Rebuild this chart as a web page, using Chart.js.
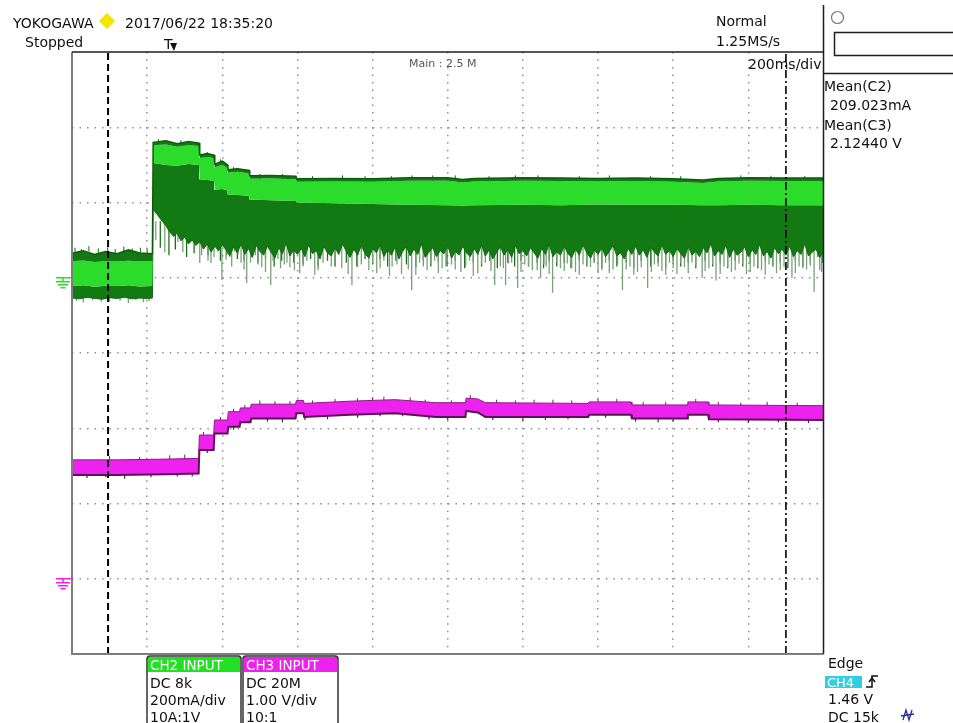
<!DOCTYPE html>
<html>
<head>
<meta charset="utf-8">
<script src="https://cdn.jsdelivr.net/npm/chart.js@4.4.1/dist/chart.umd.min.js"></script>
<style>
  html, body { margin: 0; padding: 0; background: #ffffff; }
  canvas { display: block; }
</style>
</head>
<body>
<canvas id="scope" width="953" height="723"></canvas>
<script>
// ---- Acquisition: 200 ms/div, 10 divisions ----
const timeDivs = [0, 200, 400, 600, 800, 1000, 1200, 1400, 1600, 1800, 2000];

// ---- CH2 (current, 200 mA/div, ground 3 div below top) ----
// envelope breakpoints (ms) shared by the top edge and the bright core
const ch2Time     = [0, 30, 60, 90, 120, 150, 180, 214, 216, 250, 280, 310, 338, 340, 360, 378, 380, 400, 414, 415, 440, 472, 473, 530, 596, 598, 700, 800, 900, 1000, 1040, 1070, 1200, 1300, 1400, 1500, 1600, 1680, 1720, 1800, 1900, 2000];
const ch2Top      = [65, 72, 62, 70, 64, 74, 66, 64, 360, 364, 356, 362, 358, 326, 330, 326, 302, 310, 300, 287, 290, 285, 271, 272, 270, 263, 264, 263, 266, 266, 261, 264, 266, 265, 264, 265, 263, 260, 264, 266, 265, 265];
const ch2CoreTop  = [44, 46, 42, 44, 43, 45, 44, 44, 352, 354, 348, 352, 350, 318, 320, 318, 294, 300, 292, 279, 282, 277, 263, 264, 262, 255, 256, 255, 258, 258, 253, 256, 258, 257, 256, 257, 255, 252, 256, 258, 257, 257];
const ch2CoreLow  = [-22, -20, -24, -21, -22, -20, -23, -22, 305, 300, 298, 302, 300, 262, 260, 258, 234, 236, 232, 221, 220, 218, 208, 206, 204, 200, 198, 196, 194, 193, 192, 193, 194, 193, 195, 194, 194, 193, 193, 194, 193, 193];
// lower edge of the dense noise body [ms, mA] up to 400 ms
const ch2LowHead = [
  [0,-54],[20,-56],[40,-52],[60,-55],[80,-57],[100,-53],[120,-55],[140,-52],[160,-56],[180,-54],[200,-55],[214,-54],
  [216,185],[220,176],[230,164],[240,150],[250,138],[260,122],[270,110],[280,118],[290,98],[300,108],
  [310,90],[320,100],[330,86],[340,96],[350,76],[360,90],[370,68],[380,84],[390,72],[400,88]
];
// lower edge from 410 ms on, one value every 10 ms (mA)
const ch2LowTailStart = 410;
const ch2LowTailStep = 10;
const ch2LowTail = [
  74, 58, 82, 66, 90, 62, 78, 54, 86, 70,
  60, 84, 68, 52, 80, 64, 92, 58, 74, 62,
  78, 56, 88, 64, 72, 50, 84, 66, 58, 80,
  62, 90, 70, 54, 76, 60, 86, 64, 52, 78,
  66, 88, 56, 74, 60, 82, 50, 70, 84, 58,
  76, 62, 90, 54, 68, 80, 56, 72, 64, 86,
  52, 70, 60, 84, 66, 56, 78, 62, 88, 58,
  74, 50, 68, 82, 60, 76, 54, 86, 64, 72,
  58, 80, 66, 52, 78, 62, 90, 56, 70, 60,
  84, 64, 54, 76, 60, 88, 66, 52, 74, 62,
  80, 56, 70, 86, 58, 66, 50, 78, 62, 84,
  60, 74, 54, 82, 68, 58, 88, 62, 72, 56,
  78, 64, 52, 84, 60, 70, 56, 80, 66, 90,
  58, 72, 62, 86, 54, 76, 60, 68, 82, 56,
  74, 62, 88, 58, 70, 52, 80, 64, 76, 60,
  84, 56, 72, 62, 90, 58, 68, 76, 54, 70
];
// long negative glitches [ms, mA]
const ch2GlitchesGrey = [
  [12,-62],[30,-66],[55,-60],[78,-64],[100,-63],[128,-61],[150,-67],[170,-60],[190,-65],[205,-62],
  [223,100],[247,68],[262,130],[282,95],[295,68],[318,110],[340,39],[345,60],[355,90],[362,45],[370,39],[378,55],[388,70],[399,-6],
  [410,48],[420,55],[425,30],[433,70],[442,62],[450,40],[458,22],[465,-14],[475,40],[488,60],[495,35],[505,28],[515,15],[529,-19],
  [535,45],[548,50],[555,25],[565,35],[572,40],[580,28],[592,20],[606,12],[615,30],[625,45],[646,8],[655,20],
  [668,40],[690,30],[700,42],[718,25],[735,10],[745,-19],[760,28],[770,35],[790,20],[800,38],[811,12],[820,25],[830,45],[845,5],
  [852,30],[865,35],[877,10],[895,22],[904,-33],[915,8],[925,40],[935,30],[945,20],[955,38],[965,45],[975,12],[985,25],[995,30],
  [1010,35],[1020,22],[1035,15],[1048,30],[1058,45],[1068,5],[1080,12],[1090,35],[1100,40],[1115,18],[1125,-19],[1140,30],[1148,25],
  [1154,-19],[1162,38],[1170,40],[1186,-27],[1195,15],[1205,35],[1215,30],[1225,20],[1238,20],[1247,0],[1256,35],[1262,30],[1270,10],
  [1279,-40],[1290,40],[1300,25],[1310,18],[1318,38],[1330,25],[1340,15],[1350,8],[1360,35],[1370,30],[1380,28],[1390,40],[1400,12],
  [1410,20],[1420,40],[1430,12],[1440,22],[1452,35],[1465,-33],[1475,22],[1485,30],[1495,8],[1505,15],[1515,28],[1532,-27],[1542,15],
  [1550,35],[1560,30],[1570,18],[1580,8],[1590,40],[1600,25],[1610,10],[1620,38],[1630,28],[1640,12],[1650,40],[1660,30],[1677,0],
  [1685,18],[1695,25],[1705,35],[1714,-7],[1725,10],[1735,30],[1745,28],[1755,15],[1765,20],[1775,38],[1785,35],[1795,10],[1805,15],
  [1815,30],[1825,28],[1835,20],[1845,8],[1855,35],[1865,30],[1875,12],[1885,20],[1895,28],[1905,35],[1916,0],[1925,12],[1935,30],
  [1945,25],[1955,22],[1965,32],[1975,-38],[1990,20],[1995,15]
];
const ch2GlitchesDark = [
  [235,80],[258,60],[275,75],[305,55],[325,65],[362,60],[395,45],[412,60],[440,50],[458,45],[478,55],[495,40],
  [515,50],[538,30],[558,45],[590,40],[615,35],[635,50],[655,30],[680,45],[700,30],[730,40],[758,30],[780,50],
  [800,35],[820,50],[840,30],[862,45],[890,35],[915,28],[935,45],[955,30],[975,40],[998,30],[1020,45],[1045,25],
  [1068,40],[1090,30],[1112,45],[1132,25],[1160,40],[1178,30],[1195,45],[1215,30],[1238,40],[1255,25],[1270,45],[1290,30],
  [1310,40],[1328,25],[1350,45],[1370,30],[1390,40],[1410,25],[1430,45],[1450,30],[1475,40],[1495,25],[1515,45],[1540,30],
  [1560,40],[1580,25],[1600,45],[1620,30],[1640,40],[1660,25],[1685,45],[1705,30],[1725,40],[1745,25],[1765,45],[1785,30],
  [1805,40],[1825,25],[1845,45],[1865,30],[1885,40],[1905,25],[1925,45],[1945,30],[1965,40],[1985,55],[1998,40]
];
// short positive glitches on the top edge [ms, mA]
const ch2GlitchesTop = [
  [8,80],[25,76],[45,84],[70,78],[95,81],[115,76],[138,83],[160,78],[182,80],[200,77],
  [230,368],[290,366],[360,334],[395,315],[430,294],[500,276],[560,276],[640,270],[720,272],[780,270],[850,270],[905,272],
  [960,272],[1020,272],[1110,270],[1180,272],[1240,272],[1350,270],[1430,272],[1540,270],[1620,270],[1780,272],[1860,271],[1950,270]
];

// ---- CH3 (voltage, 1.00 V/div, ground 7 div below top) ----
const ch3Time  = [0, 120, 250, 337, 339, 377, 379, 414, 416, 446, 448, 475, 477, 595, 597, 616, 618, 740, 860, 968, 1047, 1049, 1080, 1100, 1374, 1376, 1488, 1490, 1637, 1639, 1693, 1695, 2000];
const ch3Upper = [1.58, 1.58, 1.59, 1.60, 1.91, 1.91, 2.11, 2.11, 2.22, 2.22, 2.27, 2.27, 2.32, 2.32, 2.37, 2.37, 2.33, 2.36, 2.38, 2.34, 2.34, 2.40, 2.39, 2.34, 2.33, 2.35, 2.35, 2.31, 2.31, 2.35, 2.35, 2.31, 2.30];
const ch3Lower = [1.38, 1.38, 1.39, 1.40, 1.71, 1.71, 1.93, 1.93, 2.02, 2.02, 2.08, 2.08, 2.13, 2.13, 2.20, 2.20, 2.15, 2.18, 2.20, 2.15, 2.15, 2.23, 2.21, 2.15, 2.15, 2.18, 2.18, 2.13, 2.13, 2.18, 2.18, 2.12, 2.11];
// short noise ticks on the band edges [ms, V]
const ch3TicksUp = [
  [100,1.63],[180,1.62],[260,1.64],[300,1.65],[350,1.95],[395,2.15],[430,2.26],[460,2.31],[500,2.37],[540,2.36],[580,2.36],
  [640,2.37],[700,2.39],[760,2.40],[800,2.41],[830,2.42],[900,2.41],[940,2.38],[1010,2.37],[1060,2.44],[1130,2.38],[1180,2.37],
  [1230,2.38],[1280,2.38],[1330,2.37],[1400,2.39],[1450,2.39],[1520,2.35],[1580,2.35],[1660,2.39],[1720,2.35],[1780,2.34],
  [1850,2.35],[1930,2.34]
];
const ch3TicksDown = [
  [40,1.34],[90,1.35],[140,1.33],[210,1.35],[280,1.36],[320,1.36],[360,1.67],[430,1.98],[520,2.09],[560,2.08],[620,2.11],
  [680,2.12],[760,2.14],[820,2.16],[880,2.16],[950,2.12],[1000,2.11],[1120,2.11],[1200,2.10],[1260,2.11],[1320,2.12],[1420,2.14],
  [1500,2.09],[1560,2.08],[1600,2.09],[1720,2.08],[1800,2.07],[1880,2.08],[1960,2.07]
];

// ---- cursors (ms) ----
const cursorA = 96;
const cursorB = 1900;

// ---- helpers ----
const pts = (xs, ys) => xs.map((t, i) => ({ x: t, y: ys[i] }));
const pairPts = (list) => list.map(([t, v]) => ({ x: t, y: v }));
const glitchLines = (list, baseOf) => {
  const out = [];
  list.forEach(([t, v]) => { out.push({ x: t, y: baseOf(t, v) }, { x: t, y: v }, { x: t, y: null }); });
  return out;
};
const vLine = (t) => [{ x: t, y: -1000 }, { x: t, y: 600 }];
const ch2LowEdge = pairPts(ch2LowHead).concat(
  ch2LowTail.map((v, i) => ({ x: ch2LowTailStart + i * ch2LowTailStep, y: v }))
);

const GREEN_LIGHT = '#2bdc2b';
const GREEN_DARK = '#137a13';
const MAGENTA = '#ee22ee';

const lineBase = { pointRadius: 0, borderJoinStyle: 'miter', tension: 0, spanGaps: false, yAxisID: 'yI' };

const datasets = [
  Object.assign({}, lineBase, { label: 'cursor A', data: vLine(cursorA), borderColor: '#000', borderWidth: 2, borderDash: [7, 4], fill: false }),
  Object.assign({}, lineBase, { label: 'cursor B', data: vLine(cursorB), borderColor: '#000', borderWidth: 1.6, borderDash: [8, 3, 2, 3], fill: false }),
  Object.assign({}, lineBase, { label: 'CH3 max', yAxisID: 'yV', data: pts(ch3Time, ch3Upper), borderColor: '#8a1f80', borderWidth: 1, fill: false }),
  Object.assign({}, lineBase, { label: 'CH3 min', yAxisID: 'yV', data: pts(ch3Time, ch3Lower), borderColor: '#5a1254', borderWidth: 2, fill: '-1', backgroundColor: MAGENTA }),
  Object.assign({}, lineBase, { label: 'CH3 ticks up', yAxisID: 'yV', data: glitchLines(ch3TicksUp, (t, v) => v - 0.06), borderColor: '#7a1a70', borderWidth: 1, fill: false }),
  Object.assign({}, lineBase, { label: 'CH3 ticks down', yAxisID: 'yV', data: glitchLines(ch3TicksDown, (t, v) => v + 0.06), borderColor: '#5a1254', borderWidth: 1.2, fill: false }),
  Object.assign({}, lineBase, { label: 'CH2 max', data: pts(ch2Time, ch2Top), borderColor: '#0b5c0b', borderWidth: 1.5, fill: false }),
  Object.assign({}, lineBase, { label: 'CH2 core top', data: pts(ch2Time, ch2CoreTop), borderWidth: 0, borderColor: 'rgba(0,0,0,0)', fill: '-1', backgroundColor: GREEN_DARK }),
  Object.assign({}, lineBase, { label: 'CH2 core low', data: pts(ch2Time, ch2CoreLow), borderWidth: 0, borderColor: 'rgba(0,0,0,0)', fill: '-1', backgroundColor: GREEN_LIGHT }),
  Object.assign({}, lineBase, { label: 'CH2 min', data: ch2LowEdge, borderColor: '#0f6a0f', borderWidth: 1, fill: '-1', backgroundColor: GREEN_DARK }),
  Object.assign({}, lineBase, { label: 'CH2 top glitches', data: glitchLines(ch2GlitchesTop, (t, v) => v - 14), borderColor: '#0f6a0f', borderWidth: 1, fill: false }),
  Object.assign({}, lineBase, { label: 'CH2 glitches', data: glitchLines(ch2GlitchesGrey, (t) => (t < 215 ? -30 : 150)), borderColor: '#7c9f7c', borderWidth: 1.3, fill: false }),
  Object.assign({}, lineBase, { label: 'CH2 glitches dark', data: glitchLines(ch2GlitchesDark, () => 150), borderColor: '#1a6e1a', borderWidth: 1.3, fill: false })
];

// ---- screen furniture: frame, readouts, channel boxes ----
const FONT = '"DejaVu Sans", Verdana, sans-serif';
const scopeOverlay = {
  id: 'scopeOverlay',
  afterDraw(chart) {
    const ctx = chart.ctx;
    const a = chart.chartArea;
    const yI = chart.scales.yI, yV = chart.scales.yV;
    const seg = (x1, y1, x2, y2) => { ctx.beginPath(); ctx.moveTo(x1, y1); ctx.lineTo(x2, y2); ctx.stroke(); };
    const text = (s, x, y, size, color, font) => {
      ctx.font = (size || 14) + 'px ' + (font || FONT);
      ctx.fillStyle = color || '#000';
      ctx.textBaseline = 'alphabetic';
      ctx.textAlign = 'left';
      ctx.fillText(s, x, y);
    };
    ctx.save();

    // graticule frame
    ctx.lineCap = 'butt';
    ctx.strokeStyle = '#7d7d7d'; ctx.lineWidth = 2;
    seg(a.left, a.top, a.left, a.bottom);
    seg(a.left - 1, a.bottom, a.right, a.bottom);
    ctx.strokeStyle = '#1e1e1e'; ctx.lineWidth = 1.5;
    seg(a.left, a.top, a.right, a.top);
    seg(a.right, 5, a.right, a.bottom);
    seg(a.right, 73.5, 953, 73.5);
    ctx.strokeRect(834.5, 32.5, 130, 23);

    // ground markers
    const ground = (gy, color) => {
      ctx.strokeStyle = color; ctx.lineWidth = 1.5;
      seg(56, gy, a.left - 1, gy);
      seg(63, gy, 63, gy + 4);
      seg(56, gy + 4, 70, gy + 4);
      seg(58, gy + 7, 68, gy + 7);
      seg(60.5, gy + 10, 65.5, gy + 10);
    };
    ground(yI.getPixelForValue(0), GREEN_LIGHT);
    ground(yV.getPixelForValue(0), MAGENTA);

    // header
    text('YOKOGAWA', 13, 28, 14, '#111');
    ctx.fillStyle = '#f4e400';
    ctx.beginPath(); ctx.moveTo(107, 13); ctx.lineTo(115, 21); ctx.lineTo(107, 29); ctx.lineTo(99, 21); ctx.closePath(); ctx.fill();
    text('2017/06/22 18:35:20', 125, 28, 14, '#111');
    text('Stopped', 25, 47, 14, '#111');
    text('T', 164, 49, 14, '#111');
    ctx.fillStyle = '#111';
    ctx.beginPath(); ctx.moveTo(170, 43); ctx.lineTo(177, 43); ctx.lineTo(174, 51); ctx.closePath(); ctx.fill();
    text('Normal', 716, 26, 14, '#111');
    text('1.25MS/s', 716, 46, 14, '#111');
    text('200ms/div', 748, 69, 14, '#111');
    text('Main : 2.5 M', 409, 67, 11, '#555');

    // status icon
    ctx.strokeStyle = '#777'; ctx.lineWidth = 1.2;
    ctx.beginPath(); ctx.arc(837.5, 17.5, 6, 0, Math.PI * 2); ctx.stroke();

    // measurement readouts
    text('Mean(C2)', 824, 91, 14, '#111');
    text('209.023mA', 830, 110, 14, '#111');
    text('Mean(C3)', 824, 130, 14, '#111');
    text('2.12440 V', 830, 148, 14, '#111');

    // channel boxes
    const chBox = (x, w, head, headColor, lines) => {
      ctx.fillStyle = headColor;
      ctx.fillRect(x + 1, 657, w - 2, 15);
      ctx.strokeStyle = '#333'; ctx.lineWidth = 1.5;
      ctx.beginPath();
      ctx.moveTo(x, 730); ctx.lineTo(x, 659); ctx.quadraticCurveTo(x, 656, x + 3, 656);
      ctx.lineTo(x + w - 3, 656); ctx.quadraticCurveTo(x + w, 656, x + w, 659); ctx.lineTo(x + w, 730);
      ctx.stroke();
      text(head, x + 3, 670, 13.5, '#ffffff');
      lines.forEach((s, i) => text(s, x + 3, 688 + i * 17, 14, '#111'));
    };
    chBox(147, 94, 'CH2 INPUT', '#22e022', ['DC 8k', '200mA/div', '10A:1V']);
    chBox(243, 95, 'CH3 INPUT', '#ee22ee', ['DC 20M', '1.00 V/div', '10:1']);

    // trigger readout
    text('Edge', 828, 668, 14, '#111');
    ctx.fillStyle = '#33cfe0';
    ctx.fillRect(825, 676, 37, 12);
    text('CH4', 827, 687, 13, '#ffffff');
    ctx.strokeStyle = '#111'; ctx.lineWidth = 1.5;
    ctx.beginPath(); ctx.moveTo(866, 687); ctx.lineTo(872, 687); ctx.lineTo(872, 676); ctx.lineTo(878, 676); ctx.stroke();
    ctx.beginPath(); ctx.moveTo(869, 682); ctx.lineTo(872, 678); ctx.lineTo(875, 682); ctx.stroke();
    text('1.46 V', 828, 704, 14, '#111');
    text('DC 15k', 828, 722, 14, '#111');
    ctx.strokeStyle = '#2a2a9a'; ctx.lineWidth = 1.3;
    ctx.beginPath(); ctx.moveTo(903, 720); ctx.lineTo(906, 710); ctx.lineTo(909, 720); ctx.lineTo(912, 710); ctx.stroke();
    seg(901, 716, 914, 714);

    ctx.restore();
  }
};

const gridColor = (ctx) => {
  const s = ctx.scale;
  if (!ctx.tick || ctx.tick.value <= s.min || ctx.tick.value >= s.max) return 'rgba(0,0,0,0)';
  return '#8f8f8f';
};

new Chart(document.getElementById('scope'), {
  type: 'line',
  data: { datasets },
  plugins: [scopeOverlay],
  options: {
    responsive: false,
    animation: false,
    devicePixelRatio: 1,
    layout: { padding: { left: 72, top: 52, right: 953 - 823.5, bottom: 723 - 654 } },
    plugins: { legend: { display: false }, tooltip: { enabled: false }, filler: { propagate: false } },
    scales: {
      x: {
        type: 'linear', min: timeDivs[0], max: timeDivs[timeDivs.length - 1],
        afterBuildTicks: (s) => { s.ticks = timeDivs.map((v) => ({ value: v })); },
        ticks: { display: false },
        grid: { color: gridColor, lineWidth: 1.5, drawTicks: false },
        border: { display: false, dash: [1.5, 6.015] }
      },
      yV: {
        type: 'linear', position: 'left', min: -1, max: 7,
        ticks: { display: false, stepSize: 1 },
        grid: { color: gridColor, lineWidth: 1.5, drawTicks: false },
        border: { display: false, dash: [1.5, 6.02] }
      },
      yI: {
        type: 'linear', position: 'left', min: -1000, max: 600, display: false
      }
    }
  }
});
</script>
</body>
</html>
